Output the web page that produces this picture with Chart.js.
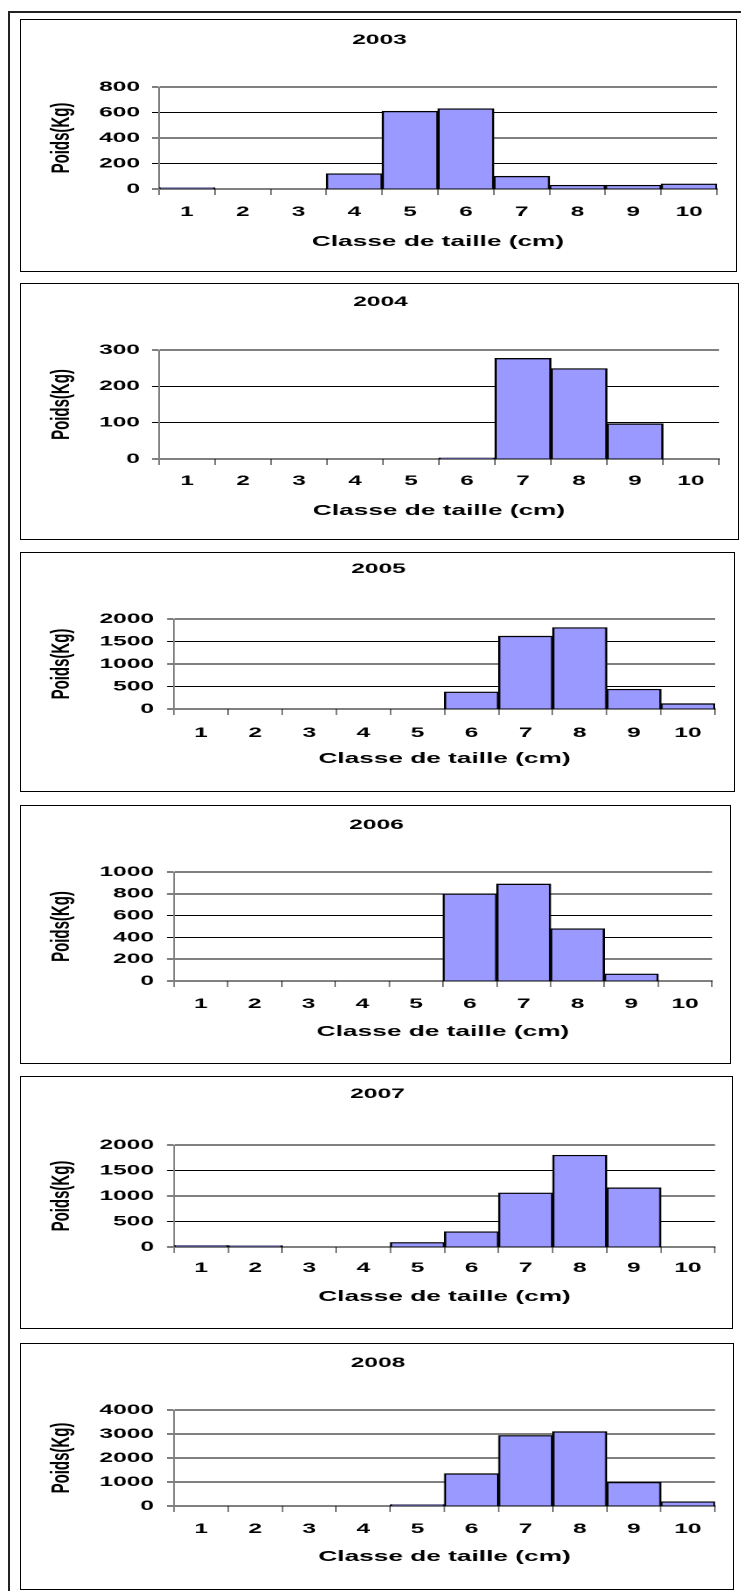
<!DOCTYPE html>
<html>
<head>
<meta charset="utf-8">
<script src="https://cdn.jsdelivr.net/npm/chart.js@4.4.1/dist/chart.umd.min.js"></script>
<style>
  html, body { margin: 0; padding: 0; background: #fff; overflow: hidden; }
  #page { position: relative; width: 741px; height: 1591px; overflow: hidden; }
  #frame { position: absolute; left: 8px; top: 11px; width: 800px; height: 1700px;
           border-left: 2px solid #222; border-top: 2px solid #222; }
  .panel { position: absolute; box-sizing: border-box; border: 1.5px solid #000; background: #fff; }
  canvas { position: absolute; transform-origin: 0 0; }
</style>
</head>
<body>
<div id="page"><div id="frame"></div></div>
<script>
var categories = ["1", "2", "3", "4", "5", "6", "7", "8", "9", "10"];
var years = ["2003", "2004", "2005", "2006", "2007", "2008"];

var poids2003 = [10, 0, 0, 120, 610, 630, 100, 30, 30, 40];
var poids2004 = [0, 0, 0, 0, 0, 3, 277, 249, 97, 0];
var poids2005 = [0, 0, 0, 0, 0, 380, 1620, 1810, 440, 120];
var poids2006 = [0, 0, 0, 0, 0, 800, 890, 480, 65, 0];
var poids2007 = [30, 25, 0, 0, 90, 300, 1060, 1800, 1160, 0];
var poids2008 = [0, 0, 0, 0, 60, 1350, 2940, 3100, 990, 180];
var series = [poids2003, poids2004, poids2005, poids2006, poids2007, poids2008];

var yMaxes = [800, 300, 2000, 1000, 2000, 4000];
var ySteps = [200, 100, 500, 200, 500, 1000];

// panel geometry in page pixels
var panels = [
  { box: [20, 19, 737, 272],    title: 40,   plot: [159, 717, 87, 189],     xLab: 212,  xTitle: 242,  yLab: 140 },
  { box: [20, 283, 739, 540],   title: 302,  plot: [159, 719, 350, 459],    xLab: 481,  xTitle: 511,  yLab: 140 },
  { box: [20, 552, 735, 792],   title: 569,  plot: [174, 715, 619, 709],    xLab: 733,  xTitle: 759,  yLab: 154 },
  { box: [20, 805, 731, 1064],  title: 825,  plot: [174, 712, 872, 981],    xLab: 1004, xTitle: 1032, yLab: 154 },
  { box: [20, 1076, 733, 1329], title: 1094, plot: [174, 715, 1145, 1247],  xLab: 1268, xTitle: 1297, yLab: 154 },
  { box: [20, 1343, 734, 1590], title: 1363, plot: [174, 715, 1410, 1506],  xLab: 1529, xTitle: 1557, yLab: 154 }
];

// the original picture is stretched sideways, so each canvas is drawn narrow and scaled in x
var STRETCH = 1.75;
var FONT = 14, AXIS_TITLE_FONT = 15, Y_TITLE_FONT = 15, LH = 1.2;

Chart.defaults.font.family = "'Liberation Sans', Arial, sans-serif";
Chart.defaults.font.weight = "bold";
Chart.defaults.color = "#000";

var page = document.getElementById("page");

function makeChart(i) {
  var g = panels[i];
  var cw = g.box[2] - g.box[0], ch = g.box[3] - g.box[1];
  var vw = Math.round(cw / STRETCH), s = cw / vw;
  var X = function (x) { return (x - g.box[0]) / s; };
  var Y = function (y) { return y - g.box[1]; };

  var plotL = X(g.plot[0]), plotR = X(g.plot[1]);
  var padR = vw - plotR;
  var padL = 2 * X((g.box[0] + g.box[2]) / 2 + 1) - vw + padR;
  var padT = Y(g.title) - FONT * LH / 2;
  var titleGap = Y(g.plot[2]) - Y(g.title) - FONT * LH / 2;
  var xH = g.xTitle - g.plot[3] + AXIS_TITLE_FONT * LH / 2;
  var padB = ch - Y(g.plot[3]) - xH;
  var yW = plotL - padL;
  var yTick = 7 / s;
  var yTickPad = (g.plot[0] - g.yLab) / s - yTick;
  var xTickPad = g.xLab - g.plot[3] - 6 - FONT * LH / 2;
  var yTitlePad = X(62) - padL - Y_TITLE_FONT * LH / 2;

  var panel = document.createElement("div");
  panel.className = "panel";
  panel.style.left = g.box[0] + "px";
  panel.style.top = g.box[1] + "px";
  panel.style.width = cw + "px";
  panel.style.height = ch + "px";
  page.appendChild(panel);

  var canvas = document.createElement("canvas");
  canvas.width = vw;
  canvas.height = ch;
  canvas.style.left = g.box[0] + "px";
  canvas.style.top = g.box[1] + "px";
  canvas.style.transform = "scaleX(" + s + ")";
  page.appendChild(canvas);

  new Chart(canvas, {
    type: "bar",
    data: {
      labels: categories,
      datasets: [{
        label: years[i],
        data: series[i],
        backgroundColor: "#9999FF",
        borderColor: "#000",
        borderWidth: 1.3,
        borderSkipped: "bottom",
        barPercentage: 1,
        categoryPercentage: 1
      }]
    },
    options: {
      responsive: false,
      animation: false,
      devicePixelRatio: 2,
      layout: { padding: { left: padL, right: padR, top: padT, bottom: padB } },
      plugins: {
        legend: { display: false },
        tooltip: { enabled: false },
        title: {
          display: true,
          text: years[i],
          color: "#000",
          font: { size: FONT, weight: "bold", lineHeight: LH },
          padding: { top: 0, bottom: titleGap }
        }
      },
      scales: {
        x: {
          offset: true,
          grid: { offset: true, drawOnChartArea: false, drawTicks: true, tickLength: 6, color: "#808080" },
          border: { color: "#000", width: 1 },
          ticks: { color: "#000", font: { size: FONT, weight: "bold", lineHeight: LH }, padding: xTickPad, autoSkip: false, maxRotation: 0 },
          title: {
            display: true,
            text: "Classe de taille (cm)",
            color: "#000",
            font: { size: AXIS_TITLE_FONT, weight: "bold", lineHeight: LH },
            padding: 0
          },
          afterFit: function (scale) { scale.height = xH; }
        },
        y: {
          min: 0,
          max: yMaxes[i],
          grid: { color: "#000", lineWidth: 1, drawTicks: true, tickLength: yTick },
          border: { color: "#808080", width: 1 },
          ticks: {
            stepSize: ySteps[i],
            color: "#000",
            font: { size: FONT, weight: "bold", lineHeight: LH },
            padding: yTickPad,
            callback: function (v) { return String(v); }
          },
          title: {
            display: true,
            text: "Poids(Kg)",
            color: "#000",
            font: { size: Y_TITLE_FONT, weight: "bold", lineHeight: LH },
            padding: { top: yTitlePad, bottom: 0 }
          },
          afterFit: function (scale) { scale.width = yW; }
        }
      }
    }
  });
}

for (var i = 0; i < years.length; i++) makeChart(i);
</script>
</body>
</html>
